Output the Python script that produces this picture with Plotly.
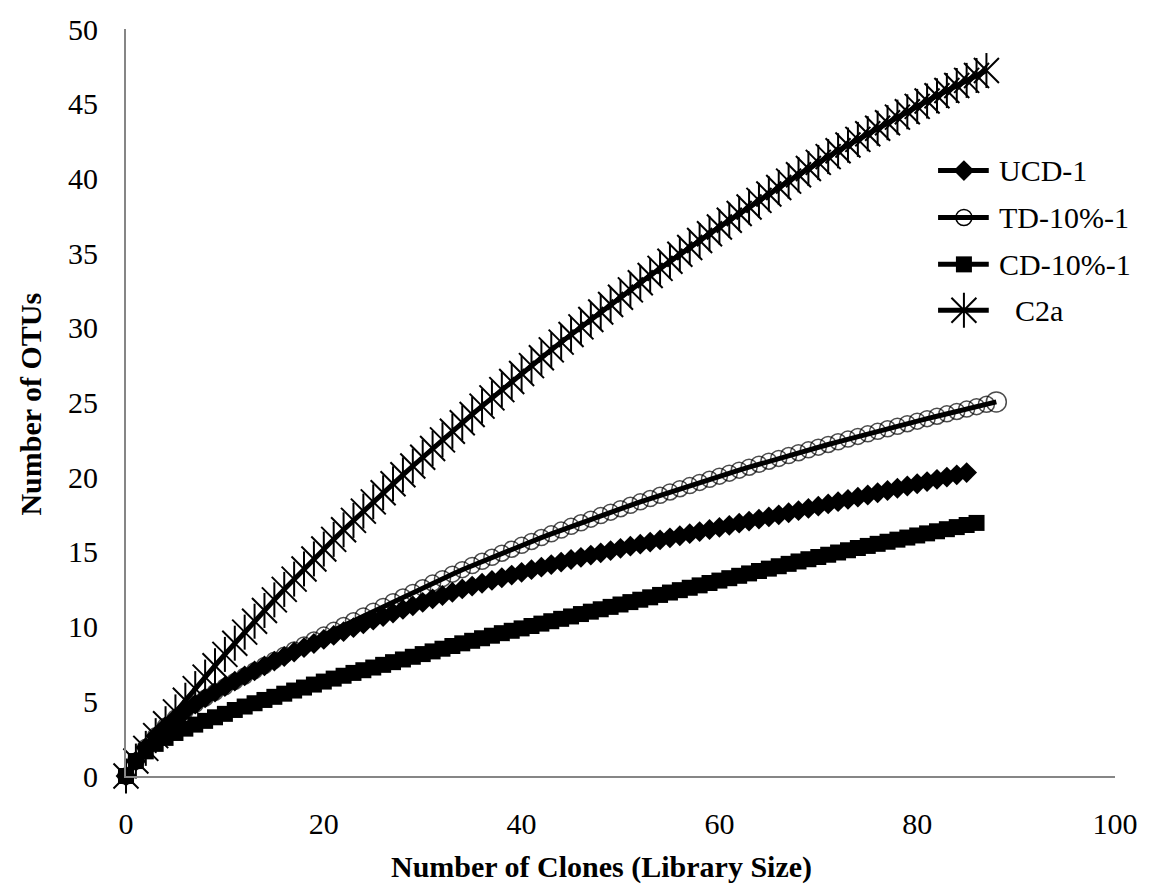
import plotly.graph_objects as go

# Rarefaction data: number of clones sampled vs. expected OTUs
ucd_1 = [0, 1.0, 1.90, 2.67, 3.32, 3.87, 4.36, 4.81, 5.23, 5.62, 5.99, 6.35, 6.70, 7.04, 7.37,
         7.69, 8.00, 8.30, 8.59, 8.87, 9.14, 9.41, 9.67, 9.93, 10.18, 10.43, 10.67, 10.91, 11.15,
         11.39, 11.62, 11.85, 12.08, 12.30, 12.52, 12.71, 12.90, 13.09, 13.27, 13.45, 13.63, 13.81,
         13.98, 14.15, 14.32, 14.49, 14.64, 14.79, 14.94, 15.09, 15.24, 15.38, 15.52, 15.66, 15.80,
         15.94, 16.08, 16.22, 16.36, 16.50, 16.64, 16.78, 16.92, 17.06, 17.20, 17.34, 17.48, 17.62,
         17.76, 17.91, 18.06, 18.21, 18.36, 18.51, 18.66, 18.81, 18.96, 19.11, 19.26, 19.41, 19.56,
         19.71, 19.86, 20.01, 20.16, 20.31]

td_10_1 = [0, 1.0, 1.92, 2.70, 3.35, 3.88, 4.36, 4.80, 5.21, 5.60, 5.97, 6.33, 6.69, 7.05, 7.40,
           7.75, 8.09, 8.43, 8.77, 9.10, 9.43, 9.75, 10.07, 10.39, 10.71, 11.03, 11.35, 11.67, 11.98,
           12.29, 12.60, 12.91, 13.21, 13.51, 13.81, 14.09, 14.37, 14.64, 14.91, 15.18, 15.44, 15.70,
           15.96, 16.21, 16.46, 16.71, 16.95, 17.19, 17.43, 17.66, 17.89, 18.12, 18.35, 18.57, 18.79,
           19.01, 19.23, 19.44, 19.65, 19.86, 20.07, 20.27, 20.47, 20.67, 20.87, 21.07, 21.26, 21.45,
           21.64, 21.83, 22.01, 22.19, 22.37, 22.55, 22.73, 22.90, 23.07, 23.24, 23.41, 23.58, 23.75,
           23.92, 24.08, 24.24, 24.40, 24.56, 24.72, 24.88, 25.04]

cd_10_1 = [0, 1.0, 1.65, 2.15, 2.55, 2.88, 3.17, 3.44, 3.69, 3.93, 4.16, 4.42, 4.65, 4.87, 5.09,
           5.30, 5.51, 5.72, 5.92, 6.12, 6.32, 6.52, 6.71, 6.90, 7.08, 7.26, 7.44, 7.62, 7.80, 7.98,
           8.16, 8.34, 8.52, 8.70, 8.88, 9.05, 9.22, 9.39, 9.56, 9.72, 9.88, 10.04, 10.20, 10.36,
           10.52, 10.68, 10.84, 11.00, 11.16, 11.32, 11.48, 11.64, 11.80, 11.96, 12.12, 12.28, 12.44,
           12.60, 12.76, 12.92, 13.08, 13.24, 13.40, 13.56, 13.72, 13.88, 14.04, 14.20, 14.36, 14.51,
           14.66, 14.81, 14.96, 15.11, 15.26, 15.40, 15.54, 15.68, 15.82, 15.96, 16.10, 16.24, 16.38,
           16.52, 16.66, 16.80, 16.94]

c2a = [0, 1.0, 1.85, 2.70, 3.50, 4.29, 5.07, 5.85, 6.62, 7.38, 8.14, 8.89, 9.63, 10.36, 11.08,
       11.79, 12.49, 13.18, 13.86, 14.53, 15.19, 15.84, 16.48, 17.11, 17.73, 18.35, 18.96, 19.56,
       20.16, 20.75, 21.34, 21.92, 22.50, 23.07, 23.64, 24.20, 24.76, 25.31, 25.86, 26.40, 26.94,
       27.47, 28.00, 28.52, 29.04, 29.55, 30.06, 30.56, 31.06, 31.56, 32.05, 32.54, 33.02, 33.50,
       33.98, 34.45, 34.92, 35.38, 35.84, 36.30, 36.75, 37.20, 37.65, 38.09, 38.53, 38.96, 39.39,
       39.82, 40.24, 40.66, 41.07, 41.46, 41.85, 42.23, 42.61, 42.99, 43.36, 43.73, 44.10, 44.46,
       44.82, 45.18, 45.53, 45.88, 46.22, 46.56, 46.89, 47.22]

series_names = ["UCD-1", "TD-10%-1", "CD-10%-1", "C2a"]
x_ticks = [0, 20, 40, 60, 80, 100]
y_ticks = list(range(0, 55, 5))

FONT = "Liberation Serif, Times New Roman, serif"
BLACK = "#000000"
AXIS_GREY = "#868686"
LINE_W = 5

DIAMOND = dict(symbol="diamond", size=16, color=BLACK, line=dict(width=0))
CIRCLE = dict(symbol="circle-open", size=16, color=BLACK, line=dict(width=1.5, color=BLACK))
SQUARE = dict(symbol="square", size=16, color=BLACK, line=dict(width=0))
STAR_X = dict(symbol="x-thin-open", size=25, color=BLACK, line=dict(width=2, color=BLACK))
STAR_V = dict(symbol="line-ns-open", size=25, color=BLACK, line=dict(width=2, color=BLACK))


def clones(values):
    return list(range(len(values)))


fig = go.Figure()

fig.add_trace(go.Scatter(
    x=clones(ucd_1), y=ucd_1, mode="lines+markers", cliponaxis=False,
    line=dict(color=BLACK, width=LINE_W), marker=DIAMOND, showlegend=False))

td_marker = dict(CIRCLE, size=[16] * (len(td_10_1) - 1) + [20])
fig.add_trace(go.Scatter(
    x=clones(td_10_1), y=td_10_1, mode="lines+markers", cliponaxis=False,
    line=dict(color=BLACK, width=LINE_W), marker=td_marker, showlegend=False))

fig.add_trace(go.Scatter(
    x=clones(cd_10_1), y=cd_10_1, mode="lines+markers", cliponaxis=False,
    line=dict(color=BLACK, width=LINE_W), marker=SQUARE, showlegend=False))

# C2a: six-armed star marker built from an X plus a vertical bar
fig.add_trace(go.Scatter(
    x=clones(c2a), y=c2a, mode="lines", cliponaxis=False,
    line=dict(color=BLACK, width=LINE_W), showlegend=False))
for st in (STAR_X, STAR_V):
    fig.add_trace(go.Scatter(
        x=clones(c2a), y=c2a, mode="markers", cliponaxis=False,
        marker=st, showlegend=False))

# Legend keys drawn on an overlay axis measured in pixels
legend_rows = [169, 216, 263, 309]
legend_styles = [[DIAMOND], [CIRCLE], [SQUARE], [STAR_X, STAR_V]]
legend_text_x = [1002, 1002, 1002, 1018]
key_x0, key_x1, key_mid = 943, 994, 969
for row, styles in zip(legend_rows, legend_styles):
    fig.add_trace(go.Scatter(
        x=[key_x0, key_x1], y=[row, row], xaxis="x2", yaxis="y2", mode="lines",
        line=dict(color=BLACK, width=LINE_W), showlegend=False, hoverinfo="skip"))
    for st in styles:
        fig.add_trace(go.Scatter(
            x=[key_mid], y=[row], xaxis="x2", yaxis="y2", mode="markers",
            marker=st, showlegend=False, hoverinfo="skip"))

annotations = []
for row, tx, name in zip(legend_rows, legend_text_x, series_names):
    annotations.append(dict(
        x=tx, y=row, xref="x2", yref="y2", text=name,
        showarrow=False, xanchor="left", yanchor="middle",
        font=dict(family=FONT, size=30, color=BLACK)))

annotations.append(dict(
    x=(604 - 126) / 995, y=(776 - 867) / 749, xref="paper", yref="paper",
    text="<b>Number of Clones (Library Size)</b>", showarrow=False,
    xanchor="center", yanchor="middle", font=dict(family=FONT, size=30, color=BLACK)))
annotations.append(dict(
    x=(30 - 126) / 995, y=(776 - 403) / 749, xref="paper", yref="paper",
    text="<b>Number of OTUs</b>", showarrow=False, textangle=-90,
    xanchor="center", yanchor="middle", font=dict(family=FONT, size=30, color=BLACK)))

fig.update_layout(
    width=1150, height=895,
    margin=dict(l=126, r=29, t=27, b=119),
    paper_bgcolor="white", plot_bgcolor="white",
    font=dict(family=FONT, size=30, color=BLACK),
    xaxis=dict(range=[0, 100], tickvals=x_ticks, showgrid=False, zeroline=False,
               showline=True, linecolor=AXIS_GREY, linewidth=2,
               ticks="outside", ticklen=20, tickcolor="rgba(0,0,0,0)",
               tickfont=dict(family=FONT, size=30, color=BLACK)),
    yaxis=dict(range=[0, 50], tickvals=y_ticks, showgrid=False, zeroline=False,
               showline=True, linecolor=AXIS_GREY, linewidth=2,
               ticks="outside", ticklen=20, tickcolor="rgba(0,0,0,0)",
               tickfont=dict(family=FONT, size=30, color=BLACK)),
    xaxis2=dict(overlaying="x", range=[126, 1121], visible=False),
    yaxis2=dict(overlaying="y", range=[776, 27], visible=False),
    annotations=annotations,
    showlegend=False,
)

fig.write_html("out.html")
